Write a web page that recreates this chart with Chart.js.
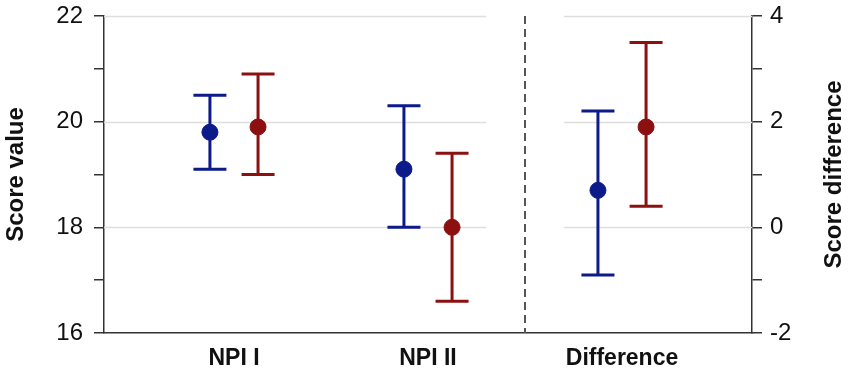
<!DOCTYPE html>
<html>
<head>
<meta charset="utf-8">
<script src="https://cdn.jsdelivr.net/npm/chart.js@4/dist/chart.umd.min.js"></script>
<style>
  html, body { margin: 0; padding: 0; background: #fff; }
  #wrap { width: 851px; height: 375px; position: relative; }
</style>
</head>
<body>
<div id="wrap"><canvas id="chartScores"></canvas></div>
<script>
// categories on the x axis
const categories = ['NPI I', 'NPI II', 'Difference'];

// score values (left axis) for NPI I and NPI II
const blueMean = [19.8, 19.1];
const blueLow = [19.1, 18.0];
const blueHigh = [20.5, 20.3];
const redMean = [19.9, 18.0];
const redLow = [19.0, 16.6];
const redHigh = [20.9, 19.4];

// score difference (right axis)
const blueDiff = [0.7];
const blueDiffLow = [-0.9];
const blueDiffHigh = [2.2];
const redDiff = [1.9];
const redDiffLow = [0.4];
const redDiffHigh = [3.5];

// tick labels
const leftTickLabels = [16, 18, 20, 22];
const rightTickLabels = [-2, 0, 2, 4];

const BLUE = '#0c1a8a';
const RED = '#8c1010';
const SHIFT = 0.124;

function points(means, start, shift) {
  return means.map((v, i) => ({ x: start + i + shift, y: v }));
}

function series(label, means, low, high, start, shift, color, axis) {
  return {
    label,
    data: points(means, start, shift),
    errLow: low,
    errHigh: high,
    yAxisID: axis,
    showLine: false,
    pointRadius: 8,
    pointHoverRadius: 8,
    pointBackgroundColor: color,
    pointBorderColor: color,
    borderColor: color,
    backgroundColor: color,
  };
}

const errorBars = {
  id: 'errorBars',
  beforeDatasetsDraw(chart) {
    const { ctx, chartArea, scales } = chart;
    const x = scales.x;

    // light grid, broken around the divider
    ctx.save();
    ctx.strokeStyle = '#dedede';
    ctx.lineWidth = 1.5;
    leftTickLabels.filter((v) => v > 16).forEach((v) => {
      const py = Math.round(scales.y.getPixelForValue(v)) + 0.5;
      ctx.beginPath();
      ctx.moveTo(chartArea.left, py);
      ctx.lineTo(x.getPixelForValue(2.3), py);
      ctx.moveTo(x.getPixelForValue(2.7), py);
      ctx.lineTo(chartArea.right, py);
      ctx.stroke();
    });

    // dashed divider
    const dx = x.getPixelForValue(2.5);
    ctx.strokeStyle = '#555';
    ctx.lineWidth = 2;
    ctx.setLineDash([8, 5]);
    ctx.beginPath();
    ctx.moveTo(dx, chartArea.top);
    ctx.lineTo(dx, chartArea.bottom);
    ctx.stroke();
    ctx.setLineDash([]);

    // error bars
    chart.data.datasets.forEach((ds) => {
      const yScale = scales[ds.yAxisID];
      ctx.strokeStyle = ds.borderColor;
      ctx.lineWidth = 3;
      ds.data.forEach((p, i) => {
        const px = x.getPixelForValue(p.x);
        const lo = yScale.getPixelForValue(ds.errLow[i]);
        const hi = yScale.getPixelForValue(ds.errHigh[i]);
        ctx.beginPath();
        ctx.moveTo(px, lo);
        ctx.lineTo(px, hi);
        ctx.moveTo(px - 16.5, lo);
        ctx.lineTo(px + 16.5, lo);
        ctx.moveTo(px - 16.5, hi);
        ctx.lineTo(px + 16.5, hi);
        ctx.stroke();
      });
    });
    ctx.restore();
  },
  afterDraw(chart) {
    const { ctx, chartArea } = chart;
    ctx.save();
    ctx.translate(834, (chartArea.top + chartArea.bottom) / 2);
    ctx.rotate(-Math.PI / 2);
    ctx.font = 'bold 24px "Liberation Sans", Arial, sans-serif';
    ctx.fillStyle = '#111';
    ctx.textAlign = 'center';
    ctx.textBaseline = 'middle';
    ctx.fillText('Score difference', 0, 0);
    ctx.restore();
  },
};

const axisLine = { display: true, color: '#333', width: 1.5 };
const tickFont = { family: '"Liberation Sans", Arial, sans-serif', size: 24 };

function fixVertical(width) {
  return (scale) => {
    scale.width = width;
    scale.paddingTop = 0;
    scale.paddingBottom = 0;
  };
}

new Chart(document.getElementById('chartScores').getContext('2d'), {
  type: 'scatter',
  data: {
    datasets: [
      series('Blue score', blueMean, blueLow, blueHigh, 1, -SHIFT, BLUE, 'y'),
      series('Red score', redMean, redLow, redHigh, 1, SHIFT, RED, 'y'),
      series('Blue difference', blueDiff, blueDiffLow, blueDiffHigh, 3, -SHIFT, BLUE, 'y2'),
      series('Red difference', redDiff, redDiffLow, redDiffHigh, 3, SHIFT, RED, 'y2'),
    ],
  },
  options: {
    responsive: true,
    maintainAspectRatio: false,
    animation: false,
    layout: { padding: { top: 16, left: 0, right: 0, bottom: 0 } },
    plugins: {
      legend: { display: false },
      tooltip: { enabled: false },
    },
    scales: {
      x: {
        type: 'linear',
        min: 0.33,
        max: 3.67,
        afterBuildTicks: (scale) => {
          scale.ticks = categories.map((c, i) => ({ value: i + 1 }));
        },
        afterFit: (scale) => {
          scale.height = 42;
          scale.paddingLeft = 0;
          scale.paddingRight = 0;
        },
        grid: { display: false, drawTicks: false },
        border: axisLine,
        ticks: {
          autoSkip: false,
          maxRotation: 0,
          padding: 12,
          color: '#111',
          font: { ...tickFont, size: 23, weight: 'bold' },
          callback: (value) => categories[Math.round(value) - 1] ?? '',
        },
      },
      y: {
        position: 'left',
        min: 16,
        max: 22,
        afterFit: fixVertical(104),
        grid: { drawOnChartArea: false, drawTicks: true, tickLength: 10, tickColor: '#333', lineWidth: 1.5 },
        border: axisLine,
        title: {
          display: true,
          text: 'Score value',
          color: '#111',
          padding: { top: 2, bottom: 0 },
          font: { ...tickFont, size: 24, weight: 'bold' },
        },
        ticks: {
          stepSize: 1,
          autoSkip: false,
          padding: 11,
          color: '#111',
          font: tickFont,
          callback: (value) => (leftTickLabels.includes(value) ? String(value) : ''),
        },
      },
      y2: {
        position: 'right',
        min: -2,
        max: 4,
        afterFit: fixVertical(99),
        grid: { drawOnChartArea: false, drawTicks: true, tickLength: 10, tickColor: '#333', lineWidth: 1.5 },
        border: axisLine,
        ticks: {
          stepSize: 1,
          autoSkip: false,
          padding: 8,
          color: '#111',
          font: tickFont,
          callback: (value) => (rightTickLabels.includes(value) ? String(value) : ''),
        },
      },
    },
  },
  plugins: [errorBars],
});
</script>
</body>
</html>
